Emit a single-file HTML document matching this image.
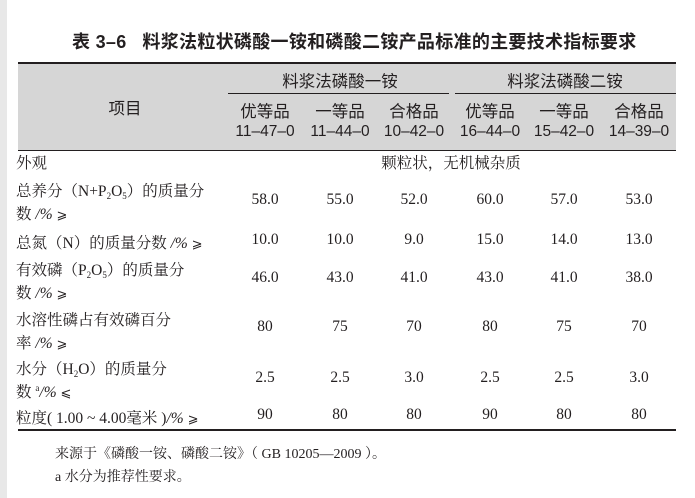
<!DOCTYPE html>
<html><head><meta charset="utf-8"><style>
body{margin:0;width:695px;height:498px;background:#fff;position:relative;overflow:hidden;font-family:"Liberation Serif","Noto Serif CJK SC",serif;color:#231f20}
.a{position:absolute;white-space:nowrap}
.s{font-family:"Liberation Sans","Noto Sans CJK SC",sans-serif}
.c{transform:translateX(-50%);text-align:center}
.v{font-size:15.5px}
.l{font-size:15.5px;left:16px}
.g{font-family:"DejaVu Sans",sans-serif;font-size:13px}
sub{font-size:9px;vertical-align:-3px}
sup{font-size:9px}
</style></head><body>
<div class="a" style="left:0;top:0;width:7px;height:498px;background:#e8e8e8"></div>
<div class="a s" style="left:72px;top:28px;font-size:18px;font-weight:bold;letter-spacing:0.3px">表 3–6&nbsp;&nbsp; 料浆法粒状磷酸一铵和磷酸二铵产品标准的主要技术指标要求</div>
<div class="a" style="left:18px;top:62px;width:658px;height:86px;background:#d6d6d6;border-top:2.5px solid #231f20;border-bottom:1.5px solid #231f20"></div>
<div class="a" style="left:228px;top:93px;width:221px;height:1px;background:#231f20"></div>
<div class="a" style="left:455px;top:93px;width:221px;height:1px;background:#231f20"></div>
<div class="a s c" style="left:340px;top:68px;font-size:16.5px">料浆法磷酸一铵</div>
<div class="a s c" style="left:565px;top:68px;font-size:16.5px">料浆法磷酸二铵</div>
<div class="a s c" style="left:125px;top:95px;font-size:16.5px">项目</div>
<div class="a s c" style="left:265px;top:98px;font-size:16.5px">优等品</div>
<div class="a s c" style="left:340px;top:98px;font-size:16.5px">一等品</div>
<div class="a s c" style="left:414px;top:98px;font-size:16.5px">合格品</div>
<div class="a s c" style="left:490px;top:98px;font-size:16.5px">优等品</div>
<div class="a s c" style="left:564px;top:98px;font-size:16.5px">一等品</div>
<div class="a s c" style="left:639px;top:98px;font-size:16.5px">合格品</div>
<div class="a s c" style="left:265px;top:123px;font-size:15.5px">11–47–0</div>
<div class="a s c" style="left:340px;top:123px;font-size:15.5px">11–44–0</div>
<div class="a s c" style="left:414px;top:123px;font-size:15.5px">10–42–0</div>
<div class="a s c" style="left:490px;top:123px;font-size:15.5px">16–44–0</div>
<div class="a s c" style="left:564px;top:123px;font-size:15.5px">15–42–0</div>
<div class="a s c" style="left:639px;top:123px;font-size:15.5px">14–39–0</div>

<div class="a l" style="top:151px">外观</div>
<div class="a c v" style="left:451px;top:151px">颗粒状，无机械杂质</div>

<div class="a l" style="top:179px">总养分（N+P<sub>2</sub>O<sub>5</sub>）的质量分</div>
<div class="a l" style="top:202px">数 <i>/%</i> <span class="g">⩾</span></div>
<div class="a l" style="top:231px">总氮（N）的质量分数 <i>/%</i> <span class="g">⩾</span></div>
<div class="a l" style="top:258px">有效磷（P<sub>2</sub>O<sub>5</sub>）的质量分</div>
<div class="a l" style="top:281px">数 <i>/%</i> <span class="g">⩾</span></div>
<div class="a l" style="top:308px">水溶性磷占有效磷百分</div>
<div class="a l" style="top:331px">率 <i>/%</i> <span class="g">⩾</span></div>
<div class="a l" style="top:357px">水分（H<sub>2</sub>O）的质量分</div>
<div class="a l" style="top:380px">数 <sup>a</sup><i>/%</i> <span class="g">⩽</span></div>
<div class="a l" style="top:406px">粒度( 1.00 ~ 4.00毫米 )<i>/%</i> <span class="g">⩾</span></div>

<div id="rows"></div>
<div class="a" style="left:18px;top:429px;width:658px;height:2px;background:#231f20"></div>
<div class="a" style="left:55px;top:443px;font-size:14px">来源于《磷酸一铵、磷酸二铵》（ GB 10205—2009 ）。</div>
<div class="a" style="left:55px;top:466px;font-size:14px">a 水分为推荐性要求。</div>
<script>
var xs=[265,340,414,490,564,639];
var rows=[[191,["58.0","55.0","52.0","60.0","57.0","53.0"]],[231,["10.0","10.0","9.0","15.0","14.0","13.0"]],[269,["46.0","43.0","41.0","43.0","41.0","38.0"]],[318,["80","75","70","80","75","70"]],[369,["2.5","2.5","3.0","2.5","2.5","3.0"]],[406,["90","80","80","90","80","80"]]];
var h="";rows.forEach(function(r){r[1].forEach(function(t,i){h+='<div class="a c v" style="left:'+xs[i]+'px;top:'+r[0]+'px">'+t+'</div>';});});
document.getElementById("rows").innerHTML=h;
</script>
</body></html>
